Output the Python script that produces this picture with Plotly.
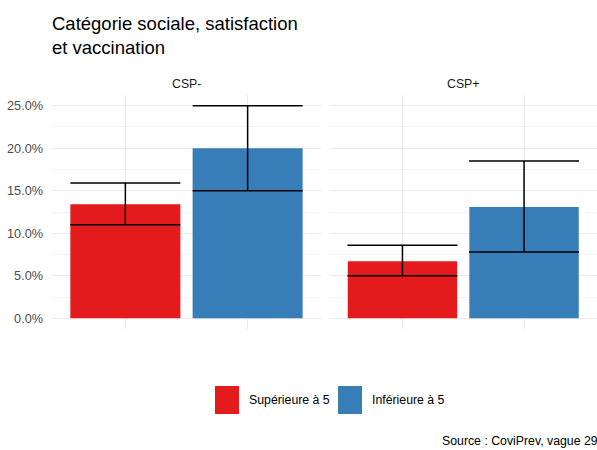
import plotly.graph_objects as go

# ---- data ----
facets = ["CSP-", "CSP+"]
categories = ["Supérieure à 5", "Inférieure à 5"]
colors = ["#E41A1C", "#377EB8"]
values_csp_minus = [13.4, 20.0]
values_csp_plus = [6.7, 13.1]
lower_csp_minus = [11.0, 15.0]
lower_csp_plus = [5.0, 7.8]
upper_csp_minus = [15.9, 25.0]
upper_csp_plus = [8.6, 18.5]
y_ticks = [0, 5, 10, 15, 20, 25]
y_tick_labels = ["0.0%", "5.0%", "10.0%", "15.0%", "20.0%", "25.0%"]
title_text = "Catégorie sociale, satisfaction<br>et vaccination"
source_text = "Source : CoviPrev, vague 29"

values = [values_csp_minus, values_csp_plus]
lowers = [lower_csp_minus, lower_csp_plus]
uppers = [upper_csp_minus, upper_csp_plus]

# ---- layout helpers ----
W, H = 597, 450
ML, MR, MT, MB = 52, 0, 95, 121
PW, PH = W - ML - MR, H - MT - MB


def px_x(px):
    return (px - ML) / PW


def px_y(py):
    return (H - MB - py) / PH


FONT = "Liberation Sans, Arial, sans-serif"
GRID = "#EBEBEB"
MINOR = "#F3F3F3"
FS = 12.3

fig = go.Figure()
axes = [("x", "y"), ("x2", "y2")]
for i, facet in enumerate(facets):
    v = values[i]
    fig.add_trace(go.Bar(
        x=categories, y=v,
        marker=dict(color=colors, line=dict(width=0)),
        width=0.9,
        error_y=dict(type="data", symmetric=False,
                     array=[u - a for u, a in zip(uppers[i], v)],
                     arrayminus=[a - l for a, l in zip(v, lowers[i])],
                     color="black", thickness=1.5, width=55),
        xaxis=axes[i][0], yaxis=axes[i][1],
        showlegend=False, hoverinfo="skip",
    ))

xcommon = dict(type="category", range=[-0.6, 1.6], showgrid=True, gridcolor=GRID,
               gridwidth=1, showticklabels=False, ticks="", zeroline=False,
               showline=False, fixedrange=True)
ycommon = dict(range=[-1.25, 26.25], tickmode="array", tickvals=y_ticks, showgrid=True,
               gridcolor=GRID, gridwidth=1, zeroline=False, showline=False, ticks="",
               fixedrange=True,
               minor=dict(dtick=2.5, tick0=0, showgrid=True, gridcolor=MINOR, gridwidth=1))

fig.update_layout(
    width=W, height=H,
    margin=dict(l=ML, r=MR, t=MT, b=MB, pad=0),
    paper_bgcolor="white", plot_bgcolor="white",
    font=dict(family=FONT, size=FS, color="#4D4D4D"),
    xaxis=dict(domain=[0, px_x(321)], anchor="y", **xcommon),
    xaxis2=dict(domain=[px_x(329.5), 1], anchor="y2", **xcommon),
    yaxis=dict(anchor="x", ticktext=y_tick_labels, ticklabelstandoff=8,
               tickfont=dict(size=12.7, color="#4D4D4D"), **ycommon),
    yaxis2=dict(anchor="x2", matches="y", showticklabels=False, **ycommon),
    bargap=0.1,
    showlegend=False,
)

# title (two lines)
fig.add_annotation(text=title_text, xref="paper", yref="paper", x=px_x(50), y=px_y(11),
                   xanchor="left", yanchor="top", align="left", showarrow=False,
                   font=dict(size=18.5, color="black", family=FONT))

# strip labels
for i, facet in enumerate(facets):
    xa = "x" if i == 0 else "x2"
    fig.add_annotation(text=facet, xref=f"{xa} domain", x=0.5, yref="paper", y=px_y(84),
                       showarrow=False, xanchor="center", yanchor="middle",
                       font=dict(size=FS, color="#1A1A1A"))

# custom legend (large keys as in the reference)
key_left = [215, 338]
key_w, key_top, key_bot = 24, 386, 414
for i, cat in enumerate(categories):
    fig.add_shape(type="rect", xref="paper", yref="paper",
                  x0=px_x(key_left[i]), x1=px_x(key_left[i] + key_w),
                  y0=px_y(key_bot), y1=px_y(key_top),
                  fillcolor=colors[i], line=dict(width=0))
    fig.add_annotation(text=cat, xref="paper", yref="paper",
                       x=px_x(key_left[i] + key_w + 8), y=px_y(400),
                       xanchor="left", yanchor="middle", showarrow=False,
                       font=dict(size=FS, color="black"))

# source caption
fig.add_annotation(text=source_text, xref="paper", yref="paper",
                   x=px_x(440), y=px_y(441), xanchor="left", yanchor="middle",
                   showarrow=False, font=dict(size=FS, color="black"))

fig.write_html("out.html")
